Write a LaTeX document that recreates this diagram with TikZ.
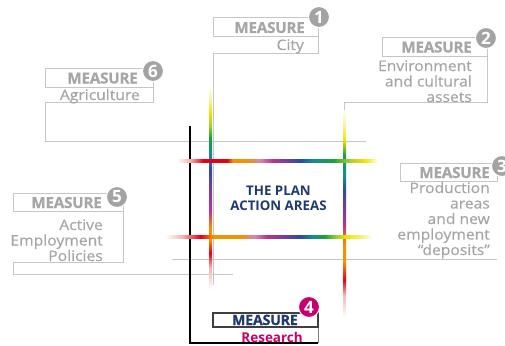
\documentclass[tikz,border=0pt]{standalone}
\usepackage{fontspec}
\setmainfont{Open Sans}
\newfontfamily\measfont{Open Sans}[BoldFeatures={FakeBold=0.8}, LetterSpace=-1.5]
\newfontfamily\plainfont{Open Sans}
\newfontfamily\subfont{Open Sans}[FakeStretch=1.08, FakeBold=0.5]
\definecolor{tgray}{HTML}{A6A6A6}
\definecolor{lgray}{HTML}{C6C6C6}
\definecolor{cgray}{HTML}{A3A3A3}
\definecolor{navy}{HTML}{1F3A6C}
\definecolor{mag}{HTML}{C8006E}
\definecolor{dbox}{HTML}{404040}
\definecolor{cred}{HTML}{E3001B}
\definecolor{corange}{HTML}{F39200}
\definecolor{cmauve}{HTML}{D486B0}
\definecolor{cmag}{HTML}{B8338C}
\definecolor{cpurple}{HTML}{7C3E96}
\definecolor{cblue}{HTML}{2B4DA0}
\definecolor{cteal}{HTML}{138C98}
\definecolor{cgreen}{HTML}{1BA23A}
\definecolor{cyg}{HTML}{A9CF2B}
\definecolor{cyel}{HTML}{F2E600}
\definecolor{cyelL}{HTML}{F9F3A0}
\definecolor{cpink}{HTML}{F4B7B0}
\pgfdeclarehorizontalshading{rbtop}{100bp}{color(0bp)=(white); color(25bp)=(white); color(28.2bp)=(cpink); color(31.5bp)=(cred); color(37.4bp)=(cred); color(38.9bp)=(corange); color(42.4bp)=(corange); color(45.6bp)=(cmauve); color(48.9bp)=(cmag); color(51.9bp)=(cpurple); color(55.6bp)=(cblue); color(58.8bp)=(cteal); color(63.8bp)=(cgreen); color(68bp)=(cyg); color(71.8bp)=(cyel); color(75bp)=(white); color(100bp)=(white)}
\pgfdeclarehorizontalshading{rbbot}{100bp}{color(0bp)=(white); color(25bp)=(white); color(29.1bp)=(cpink); color(33.5bp)=(cred); color(36.6bp)=(corange); color(43.1bp)=(corange); color(46.7bp)=(cmauve); color(49.6bp)=(cmag); color(53.5bp)=(cpurple); color(57.6bp)=(cblue); color(60.7bp)=(cteal); color(63.6bp)=(cgreen); color(66.5bp)=(cyg); color(69bp)=(cyel); color(73.3bp)=(cyelL); color(75bp)=(white); color(100bp)=(white)}
\pgfdeclareverticalshading{rbleft}{100bp}{color(0bp)=(white); color(25bp)=(white); color(30.4bp)=(cpink); color(34bp)=(cred); color(37.2bp)=(corange); color(40.1bp)=(corange); color(44.5bp)=(cmag); color(49.4bp)=(cpurple); color(54.3bp)=(cblue); color(57.9bp)=(cteal); color(62.1bp)=(cgreen); color(65.2bp)=(cyg); color(68.4bp)=(cyel); color(71.3bp)=(cyelL); color(75bp)=(white); color(100bp)=(white)}
\pgfdeclareverticalshading{rbright}{100bp}{color(0bp)=(white); color(25bp)=(white); color(30.3bp)=(cpink); color(33.9bp)=(cred); color(38.3bp)=(corange); color(42.4bp)=(corange); color(47.2bp)=(cmag); color(50.8bp)=(cpurple); color(55.7bp)=(cblue); color(59.3bp)=(cteal); color(64.1bp)=(cgreen); color(67.8bp)=(cyel); color(71.4bp)=(cyelL); color(75bp)=(white); color(100bp)=(white)}
\tikzset{
  gline/.style={draw=lgray, line width=0.9pt},
  gbox/.style={draw=lgray, line width=0.9pt},
  meas/.style={anchor=base east, inner sep=0pt, text=tgray, font=\measfont\bfseries\fontsize{15.2}{16}\selectfont},
  sub/.style={anchor=base east, inner sep=0pt, text=tgray, font=\subfont\fontsize{14.5}{15}\selectfont},
  num/.style={circle, fill=cgray, draw=white, line width=1pt, minimum size=21pt, inner sep=0pt, text=white, font=\plainfont\bfseries\fontsize{17}{17}\selectfont},
}
\begin{document}
\begin{tikzpicture}[x=1pt,y=-1pt]
\useasboundingbox (0,0) rectangle (505,345);
% gray connectors
\draw[gline] (318,36) -- (318,53) -- (213,53) -- (213,285);
\draw[gline] (487,56) -- (487,102) -- (344,102) -- (344,300);
\draw[gline] (153,87) -- (153,102) -- (45,102) -- (45,141) -- (366,141);
\draw[gline] (172,259) -- (497,259);
\draw[gline] (123,211) -- (123,262) -- (13,262) -- (13,274) -- (233,274);
% black frame of measure 4
\draw[black, line width=1.1pt] (190,126) -- (190,343) -- (318,343);
\draw[gray, line width=1pt] (318,327) -- (318,343);
% rainbow lines
\shade[shading=rbleft] (209.4,85) rectangle (212,290);
\shade[shading=rbright] (343.4,110) rectangle (346,317);
\shade[shading=rbtop] (177,159.4) rectangle (378,162);
\shade[shading=rbbot] (165,235.4) rectangle (372,238);
% boxes
\draw[gbox] (213,17) rectangle (318,36);
\draw[gbox] (382,37) rectangle (487,56);
\draw[gbox] (45,68) rectangle (153,87);
\draw[gbox] (400,163) rectangle (497,181);
\draw[gbox] (13,193) rectangle (123,211);
\draw[draw=dbox, line width=1.3pt] (213,313) rectangle (318,327);
% texts
\node[meas] (m1) at (305,33) {MEASURE};
\node[sub] (s1) at (304,50) {City};
\node[meas] (m2) at (472,52.5) {MEASURE};
\foreach \t [count=\i] in {Environment,and cultural,assets}
  \node[sub] (s2\i) at (472,{71+15.5*(\i-1)}) {\t};
\node[meas] (m6) at (138,83.5) {MEASURE};
\node[sub] (s6) at (140,100) {Agriculture};
\node[meas] (m3) at (490,178) {MEASURE};
\foreach \t [count=\i] in {Production,areas,and new,employment,“deposits”}
  \node[sub] (s3\i) at (490,{193+15.5*(\i-1)}) {\t};
\node[meas] (m5) at (102,208) {MEASURE};
\foreach \t [count=\i] in {Active,Employment,Policies}
  \node[sub] (s5\i) at (103,{230+15.5*(\i-1)}) {\t};
\node[meas, text=navy, font=\measfont\bfseries\fontsize{14.2}{15}\selectfont] (m4) at (298,325) {MEASURE};
\node[sub, text=mag, font=\plainfont\bfseries\fontsize{13.5}{14}\selectfont] (s4) at (303,342) {Research};
\node[align=center, text=navy, inner sep=0pt, font=\plainfont\bfseries\fontsize{13.3}{15}\selectfont] (plan) at (278.5,198.5) {THE PLAN\\ACTION AREAS};
% number circles
\node[num] (c1) at (319,17) {1};
\node[num] (c2) at (486,38) {2};
\node[num] (c3) at (502,166) {3};
\node[num] (c5) at (117,197) {5};
\node[num] (c6) at (153,71) {6};
\node[num, fill=mag] (c4) at (309,307) {4};
\end{tikzpicture}
\end{document}
